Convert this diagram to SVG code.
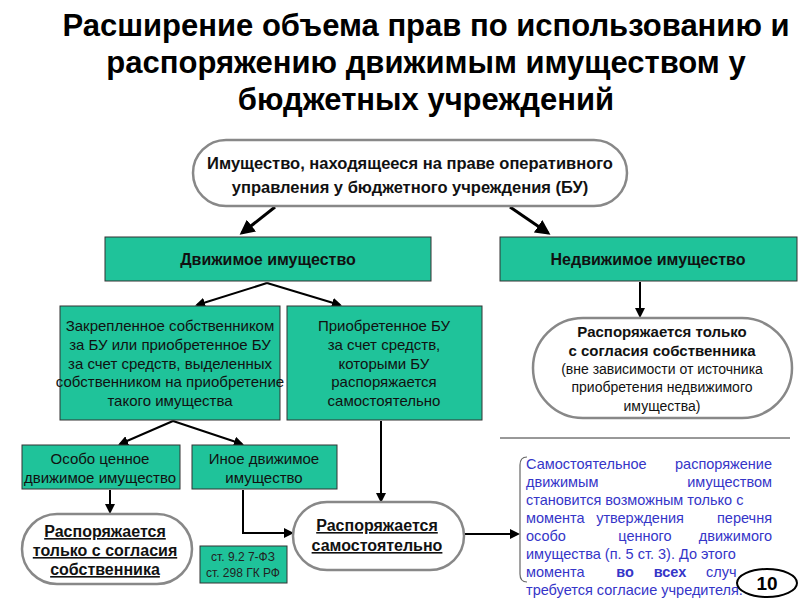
<svg xmlns="http://www.w3.org/2000/svg" width="800" height="600" viewBox="0 0 800 600">
<defs>
<style>
text{font-family:"Liberation Sans",Arial,sans-serif;text-anchor:middle}
.t{font-size:31px;font-weight:bold;fill:#000}
.g{fill:#1fc39a;stroke:#333;stroke-width:1}
.o{fill:#fff;stroke:#888;stroke-width:2.5}
.n{font-size:15px;fill:#111}
.b{font-size:16px;font-weight:bold;fill:#111}
.u{text-decoration:underline}
.c{stroke:#000;stroke-width:3;fill:none}
.c2{stroke:#000;stroke-width:2;fill:none}
.p{font-size:14.5px;fill:#3535c8;text-anchor:start}
.pe{text-anchor:end}
.pm{text-anchor:middle}
</style>
<marker id="s" markerWidth="5" markerHeight="5" refX="4" refY="2.5" orient="auto" markerUnits="strokeWidth"><path d="M0,0 L5,2.5 L0,5 z" fill="#000"/></marker>
</defs>
<rect width="800" height="600" fill="#fff"/>
<g id="title">
<text class="t" x="426" y="36">Расширение объема прав по использованию и</text>
<text class="t" x="426" y="73">распоряжению движимым имуществом у</text>
<text class="t" x="426" y="110">бюджетных учреждений</text>
</g>
<g id="connectors">
<path class="c" d="M275,207 L242,233" marker-end="url(#s)"/>
<path class="c" d="M510,207 L548,233" marker-end="url(#s)"/>
<path class="c2" d="M267,283 L197,305" marker-end="url(#s)"/>
<path class="c2" d="M267,283 L340,305" marker-end="url(#s)"/>
<path class="c2" d="M640,282 L640,316" marker-end="url(#s)"/>
<path class="c2" d="M173,421 L120,444" marker-end="url(#s)"/>
<path class="c2" d="M173,421 L242,444" marker-end="url(#s)"/>
<path class="c2" d="M110,490 L110,512" marker-end="url(#s)"/>
<path class="c2" d="M243,490 L243,533 L292,533" marker-end="url(#s)"/>
<path class="c2" d="M381,421 L381,501" marker-end="url(#s)"/>
<path class="c2" d="M464,534 L518,534" marker-end="url(#s)"/>
</g>
<g id="top">
<rect class="o" x="193" y="140" width="434" height="66" rx="33"/>
<text class="b" x="410" y="169" style="font-size:16.5px">Имущество, находящееся на праве оперативного</text>
<text class="b" x="410" y="193" style="font-size:16.5px">управления у бюджетного учреждения (БУ)</text>
</g>
<g id="movable">
<rect class="g" x="105" y="237" width="326" height="44"/>
<text class="b" x="268" y="265">Движимое имущество</text>
</g>
<g id="immovable">
<rect class="g" x="500" y="237" width="297" height="44"/>
<text class="b" x="648" y="265">Недвижимое имущество</text>
</g>
<g id="fixed">
<rect class="g" x="60" y="306" width="220" height="114"/>
<text class="n" x="170" y="331">Закрепленное собственником</text>
<text class="n" x="170" y="350">за БУ или приобретенное БУ</text>
<text class="n" x="170" y="369">за счет средств, выделенных</text>
<text class="n" x="170" y="387">собственником на приобретение</text>
<text class="n" x="170" y="406">такого имущества</text>
</g>
<g id="acquired">
<rect class="g" x="287" y="306" width="195" height="114"/>
<text class="n" x="384" y="331">Приобретенное БУ</text>
<text class="n" x="384" y="350">за счет средств,</text>
<text class="n" x="384" y="369">которыми  БУ</text>
<text class="n" x="384" y="387">распоряжается</text>
<text class="n" x="384" y="406">самостоятельно</text>
</g>
<g id="owner-consent-right">
<rect class="o" x="533" y="318" width="259" height="100" rx="50"/>
<text class="b" x="662" y="337" style="font-size:15px">Распоряжается только</text>
<text class="b" x="662" y="356" style="font-size:15px">с согласия собственника</text>
<text class="n" x="662" y="374" style="font-size:14px">(вне зависимости от источника</text>
<text class="n" x="662" y="392" style="font-size:14px">приобретения недвижимого</text>
<text class="n" x="662" y="411" style="font-size:14px">имущества)</text>
</g>
<line x1="500" y1="438" x2="790" y2="438" stroke="#333" stroke-width="1"/>
<g id="especially">
<rect class="g" x="22" y="445" width="158" height="44"/>
<text class="n" x="100" y="464">Особо ценное</text>
<text class="n" x="100" y="483">движимое имущество</text>
</g>
<g id="other">
<rect class="g" x="192" y="445" width="145" height="44"/>
<text class="n" x="264" y="464">Иное движимое</text>
<text class="n" x="264" y="483">имущество</text>
</g>
<g id="owner-consent">
<rect class="o" x="22" y="514" width="170" height="70" rx="35"/>
<text class="b u" x="105" y="537">Распоряжается </text>
<text class="b u" x="105" y="556">только с согласия </text>
<text class="b u" x="105" y="575">собственника</text>
</g>
<g id="law">
<rect class="g" x="200" y="546" width="87" height="37"/>
<text style="font-size:12px;fill:#222" x="243" y="561">ст. 9.2 7-ФЗ</text>
<text style="font-size:12px;fill:#222" x="243" y="577">ст. 298 ГК РФ</text>
</g>
<g id="independent">
<rect class="o" x="293" y="502" width="171" height="68" rx="34"/>
<text class="b u" x="377" y="531">Распоряжается </text>
<text class="b u" x="377" y="551">самостоятельно</text>
</g>
<g id="note">
<path d="M527,457 Q520,457 520,465 L520,574 Q520,582 527,582" fill="none" stroke="#666" stroke-width="1.2"/>
<text class="p" x="526" y="469">Самостоятельное</text><text class="p pe" x="772" y="469">распоряжение</text>
<text class="p" x="526" y="487">движимым</text><text class="p pe" x="772" y="487">имуществом</text>
<text class="p" x="526" y="505">становится возможным только с</text>
<text class="p" x="526" y="523">момента</text><text class="p pm" x="640" y="523">утверждения</text><text class="p pe" x="772" y="523">перечня</text>
<text class="p" x="526" y="541">особо</text><text class="p pm" x="645" y="541">ценного</text><text class="p pe" x="772" y="541">движимого</text>
<text class="p" x="526" y="559">имущества (п. 5 ст. 3). До этого</text>
<text class="p" x="526" y="577">момента</text><text class="p pm" x="625" y="577" font-weight="bold">во</text><text class="p pm" x="670" y="577" font-weight="bold">всех</text><text class="p" x="706" y="577">случ</text>
<text class="p" x="526" y="595">требуется согласие учредителя.</text>
</g>
<g id="page">
<ellipse cx="767" cy="583" rx="30" ry="14" fill="#fff" stroke="#000" stroke-width="2"/>
<text x="767" y="590" style="font-size:19px;font-weight:bold">10</text>
</g>
</svg>
